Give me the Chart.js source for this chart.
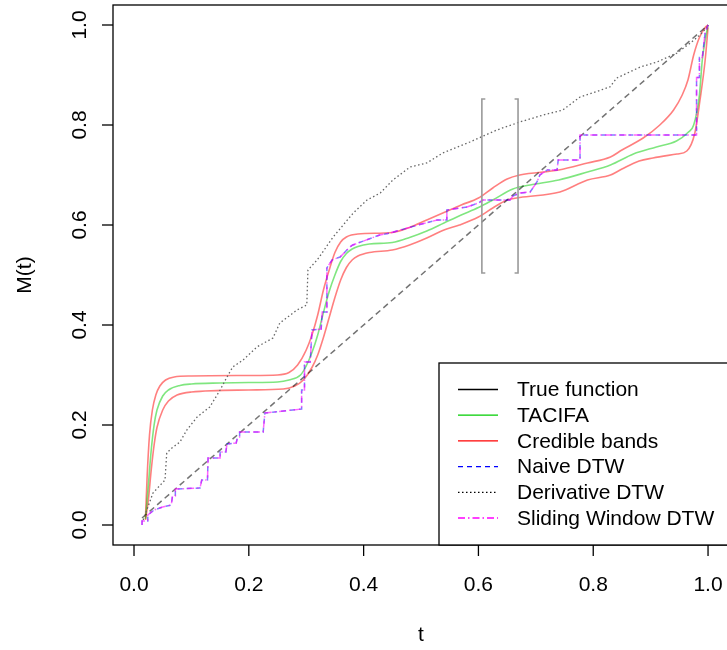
<!DOCTYPE html>
<html>
<head>
<meta charset="utf-8">
<script src="https://cdn.jsdelivr.net/npm/chart.js@4.4.1/dist/chart.umd.min.js"></script>
<style>
  html, body { margin: 0; padding: 0; background: #fff; overflow: hidden; }
  #wrap { width: 727px; height: 650px; overflow: hidden; }
</style>
</head>
<body>
<div id="wrap"><canvas id="graficoWarp" width="740" height="650"></canvas></div>
<script>
// estimated warping M(t) and its credible band
const tacifa = [
  [0.02, 0.012], [0.025, 0.08], [0.03, 0.15], [0.035, 0.20], [0.04, 0.23], [0.05, 0.258],
  [0.06, 0.27], [0.08, 0.279], [0.10, 0.282], [0.15, 0.284], [0.20, 0.285], [0.25, 0.286],
  [0.27, 0.29], [0.29, 0.30], [0.30, 0.318], [0.31, 0.345], [0.32, 0.38], [0.33, 0.425],
  [0.34, 0.467], [0.35, 0.50], [0.36, 0.527], [0.37, 0.543], [0.38, 0.552], [0.39, 0.557],
  [0.41, 0.562], [0.45, 0.565], [0.48, 0.575], [0.51, 0.588], [0.54, 0.604], [0.57, 0.62],
  [0.60, 0.635], [0.625, 0.65], [0.66, 0.672], [0.69, 0.68], [0.74, 0.69], [0.79, 0.706],
  [0.83, 0.72], [0.87, 0.742], [0.91, 0.756], [0.945, 0.768], [0.965, 0.785], [0.975, 0.80],
  [0.985, 0.86], [0.99, 0.93], [0.995, 0.97], [1.0, 1.0]
];
const bandUpper = [
  [0.02, 0.015], [0.023, 0.10], [0.027, 0.18], [0.032, 0.23], [0.038, 0.26], [0.045, 0.278],
  [0.055, 0.29], [0.07, 0.296], [0.10, 0.298], [0.20, 0.299], [0.25, 0.30], [0.27, 0.305],
  [0.285, 0.32], [0.30, 0.35], [0.31, 0.38], [0.32, 0.42], [0.33, 0.47], [0.34, 0.51],
  [0.35, 0.545], [0.36, 0.566], [0.37, 0.576], [0.39, 0.582], [0.45, 0.585], [0.48, 0.595],
  [0.51, 0.61], [0.54, 0.625], [0.57, 0.64], [0.60, 0.654], [0.625, 0.674], [0.65, 0.692],
  [0.672, 0.70], [0.74, 0.71], [0.79, 0.724], [0.83, 0.736], [0.85, 0.75], [0.887, 0.774],
  [0.916, 0.80], [0.94, 0.83], [0.955, 0.86], [0.965, 0.89], [0.975, 0.94], [0.985, 0.975],
  [0.995, 0.995], [1.0, 1.0]
];
const bandLower = [
  [0.02, 0.01], [0.025, 0.05], [0.03, 0.11], [0.035, 0.16], [0.04, 0.195], [0.05, 0.23],
  [0.06, 0.248], [0.075, 0.26], [0.10, 0.266], [0.20, 0.27], [0.26, 0.272], [0.28, 0.278],
  [0.295, 0.29], [0.31, 0.315], [0.32, 0.34], [0.33, 0.375], [0.34, 0.415], [0.35, 0.455],
  [0.36, 0.49], [0.37, 0.515], [0.38, 0.53], [0.39, 0.538], [0.41, 0.545], [0.45, 0.55],
  [0.48, 0.56], [0.51, 0.574], [0.54, 0.59], [0.567, 0.60], [0.60, 0.616], [0.625, 0.634],
  [0.65, 0.65], [0.672, 0.655], [0.742, 0.666], [0.79, 0.69], [0.83, 0.70], [0.85, 0.712],
  [0.88, 0.728], [0.904, 0.734], [0.946, 0.742], [0.963, 0.748], [0.977, 0.784],
  [0.986, 0.85], [0.995, 0.93], [1.0, 0.995]
];

// identity reference line
const identity = [[0.014, 0.014], [1.0, 1.0]];

// step-shaped DTW warping path (naive and sliding window give the same path)
const dtwPath = [
  [0.014, 0.0], [0.014, 0.008], [0.024, 0.008], [0.024, 0.02], [0.035, 0.03], [0.05, 0.036],
  [0.065, 0.04], [0.067, 0.058], [0.072, 0.058], [0.072, 0.072], [0.115, 0.074], [0.118, 0.09],
  [0.128, 0.09], [0.129, 0.134], [0.15, 0.134], [0.15, 0.146], [0.16, 0.146], [0.162, 0.162],
  [0.178, 0.164], [0.18, 0.174], [0.184, 0.176], [0.184, 0.186], [0.225, 0.186], [0.228, 0.224],
  [0.292, 0.232], [0.292, 0.27], [0.297, 0.27], [0.297, 0.326], [0.307, 0.326], [0.31, 0.39],
  [0.326, 0.392], [0.328, 0.426], [0.336, 0.426], [0.336, 0.514], [0.345, 0.53], [0.354, 0.534],
  [0.359, 0.536], [0.376, 0.556], [0.381, 0.56], [0.428, 0.58], [0.446, 0.584], [0.495, 0.60],
  [0.528, 0.61], [0.545, 0.61], [0.545, 0.63], [0.58, 0.636], [0.60, 0.644], [0.608, 0.65],
  [0.655, 0.65], [0.66, 0.658], [0.672, 0.664], [0.69, 0.666], [0.702, 0.686], [0.707, 0.70],
  [0.72, 0.71], [0.737, 0.71], [0.739, 0.73], [0.777, 0.73], [0.777, 0.78], [0.98, 0.78],
  [0.98, 0.895], [0.985, 0.895], [0.985, 0.935], [0.99, 0.935], [0.995, 0.985], [1.0, 1.0]
];

const derivativeDtw = [
  [0.016, 0.01], [0.033, 0.064], [0.054, 0.09], [0.057, 0.144], [0.066, 0.154], [0.08, 0.166],
  [0.092, 0.19], [0.11, 0.216], [0.132, 0.236], [0.15, 0.27], [0.162, 0.296], [0.172, 0.316],
  [0.19, 0.33], [0.214, 0.356], [0.242, 0.374], [0.254, 0.404], [0.284, 0.43], [0.301, 0.44],
  [0.303, 0.51], [0.319, 0.53], [0.347, 0.576], [0.376, 0.616], [0.382, 0.624], [0.406, 0.65],
  [0.429, 0.664], [0.451, 0.69], [0.481, 0.716], [0.51, 0.724], [0.538, 0.744], [0.585, 0.766],
  [0.632, 0.79], [0.672, 0.806], [0.713, 0.82], [0.747, 0.83], [0.777, 0.856], [0.829, 0.876],
  [0.841, 0.894], [0.882, 0.916], [0.911, 0.926], [0.946, 0.944], [0.969, 0.964],
  [0.986, 0.98], [1.0, 0.998]
];

// interval marked with brackets
const bracketT = [0.606, 0.669];
const bracketM = [0.504, 0.852];
const bracketTick = 0.006;

const tickValues = [0, 0.2, 0.4, 0.6, 0.8, 1.0];
const tickLabels = ['0.0', '0.2', '0.4', '0.6', '0.8', '1.0'];

const legendLabels = ['True function', 'TACIFA', 'Credible bands', 'Naive DTW', 'Derivative DTW', 'Sliding Window DTW'];
const legendColors = ['#000000', '#00CD00', '#FF0000', '#0000FF', '#000000', '#FF00FF'];
const legendDashes = [[], [], [], [5, 4], [1.5, 2.5], [7, 3, 1.5, 3]];

const FONT = '21px "Liberation Sans", Arial, sans-serif';

const toXY = arr => arr.map(p => ({ x: p[0], y: p[1] }));

const leftBracket = [
  [bracketT[0] + bracketTick, bracketM[1]], [bracketT[0], bracketM[1]],
  [bracketT[0], bracketM[0]], [bracketT[0] + bracketTick, bracketM[0]]
];
const rightBracket = [
  [bracketT[1] - bracketTick, bracketM[1]], [bracketT[1], bracketM[1]],
  [bracketT[1], bracketM[0]], [bracketT[1] - bracketTick, bracketM[0]]
];

function line(data, color, width, dash, smooth) {
  return {
    data: toXY(data),
    borderColor: color,
    borderWidth: width,
    borderDash: dash || [],
    pointRadius: 0,
    tension: smooth ? 0.4 : 0,
    cubicInterpolationMode: smooth ? 'monotone' : 'default',
    fill: false
  };
}

// axes, box and legend in base R style
const baseAxes = {
  id: 'baseAxes',
  afterDraw(chart) {
    const c = chart.ctx;
    const a = chart.chartArea;
    const xs = chart.scales.x;
    const ys = chart.scales.y;
    c.save();
    c.strokeStyle = '#000';
    c.fillStyle = '#000';
    c.lineWidth = 1.3;
    c.setLineDash([]);
    c.strokeRect(a.left, a.top, a.right - a.left, a.bottom - a.top);

    c.font = FONT;
    c.textAlign = 'center';
    tickValues.forEach((v, i) => {
      const px = xs.getPixelForValue(v);
      c.beginPath();
      c.moveTo(px, a.bottom);
      c.lineTo(px, a.bottom + 11);
      c.stroke();
      c.textBaseline = 'alphabetic';
      c.fillText(tickLabels[i], px, a.bottom + 46);

      const py = ys.getPixelForValue(v);
      c.beginPath();
      c.moveTo(a.left, py);
      c.lineTo(a.left - 11, py);
      c.stroke();
      c.save();
      c.translate(a.left - 27, py);
      c.rotate(-Math.PI / 2);
      c.fillText(tickLabels[i], 0, 0);
      c.restore();
    });

    c.fillText('t', xs.getPixelForValue(0.5), a.bottom + 96);
    c.save();
    c.translate(31, (a.top + a.bottom) / 2);
    c.rotate(-Math.PI / 2);
    c.fillText('M(t)', 0, 0);
    c.restore();

    // legend in the bottom-right corner
    const lw = 292, lh = 182;
    const lx = a.right - lw, ly = a.bottom - lh;
    c.fillStyle = '#fff';
    c.fillRect(lx, ly, lw, lh);
    c.strokeStyle = '#000';
    c.lineWidth = 1.3;
    c.strokeRect(lx, ly, lw, lh);
    c.textAlign = 'left';
    c.textBaseline = 'middle';
    legendLabels.forEach((lab, i) => {
      const y = ly + 26.5 + i * 25.7;
      c.strokeStyle = legendColors[i];
      c.lineWidth = 1.3;
      c.setLineDash(legendDashes[i]);
      c.beginPath();
      c.moveTo(lx + 19, y);
      c.lineTo(lx + 59, y);
      c.stroke();
      c.setLineDash([]);
      c.fillStyle = '#000';
      c.fillText(lab, lx + 78, y + 1);
    });
    c.restore();
  }
};

const ctx = document.getElementById('graficoWarp').getContext('2d');

new Chart(ctx, {
    type: 'line',
    data: {
        datasets: [
            line(leftBracket, '#9a9a9a', 1.6),
            line(rightBracket, '#9a9a9a', 1.6),
            line(dtwPath, 'rgba(255, 0, 255, 0.6)', 1.5, [7, 3, 1.5, 3]),
            line(derivativeDtw, '#666666', 1.3, [1.5, 2.5]),
            line(dtwPath, 'rgba(0, 0, 255, 0.5)', 1.5, [5, 4]),
            line(identity, 'rgba(0, 0, 0, 0.55)', 1.5, [6, 4]),
            line(tacifa, 'rgba(0, 205, 0, 0.5)', 1.6, null, true),
            line(bandUpper, 'rgba(255, 0, 0, 0.5)', 1.6, null, true),
            line(bandLower, 'rgba(255, 0, 0, 0.5)', 1.6, null, true)
        ]
    },
    options: {
        responsive: false,
        animation: false,
        devicePixelRatio: 1,
        layout: { padding: { left: 113, top: 5, right: 9, bottom: 105 } },
        scales: {
            x: { type: 'linear', display: false, min: -0.0366, max: 1.04 },
            y: { type: 'linear', display: false, min: -0.04, max: 1.04 }
        },
        plugins: {
            legend: { display: false },
            tooltip: { enabled: false }
        }
    },
    plugins: [baseAxes]
});
</script>
</body>
</html>
